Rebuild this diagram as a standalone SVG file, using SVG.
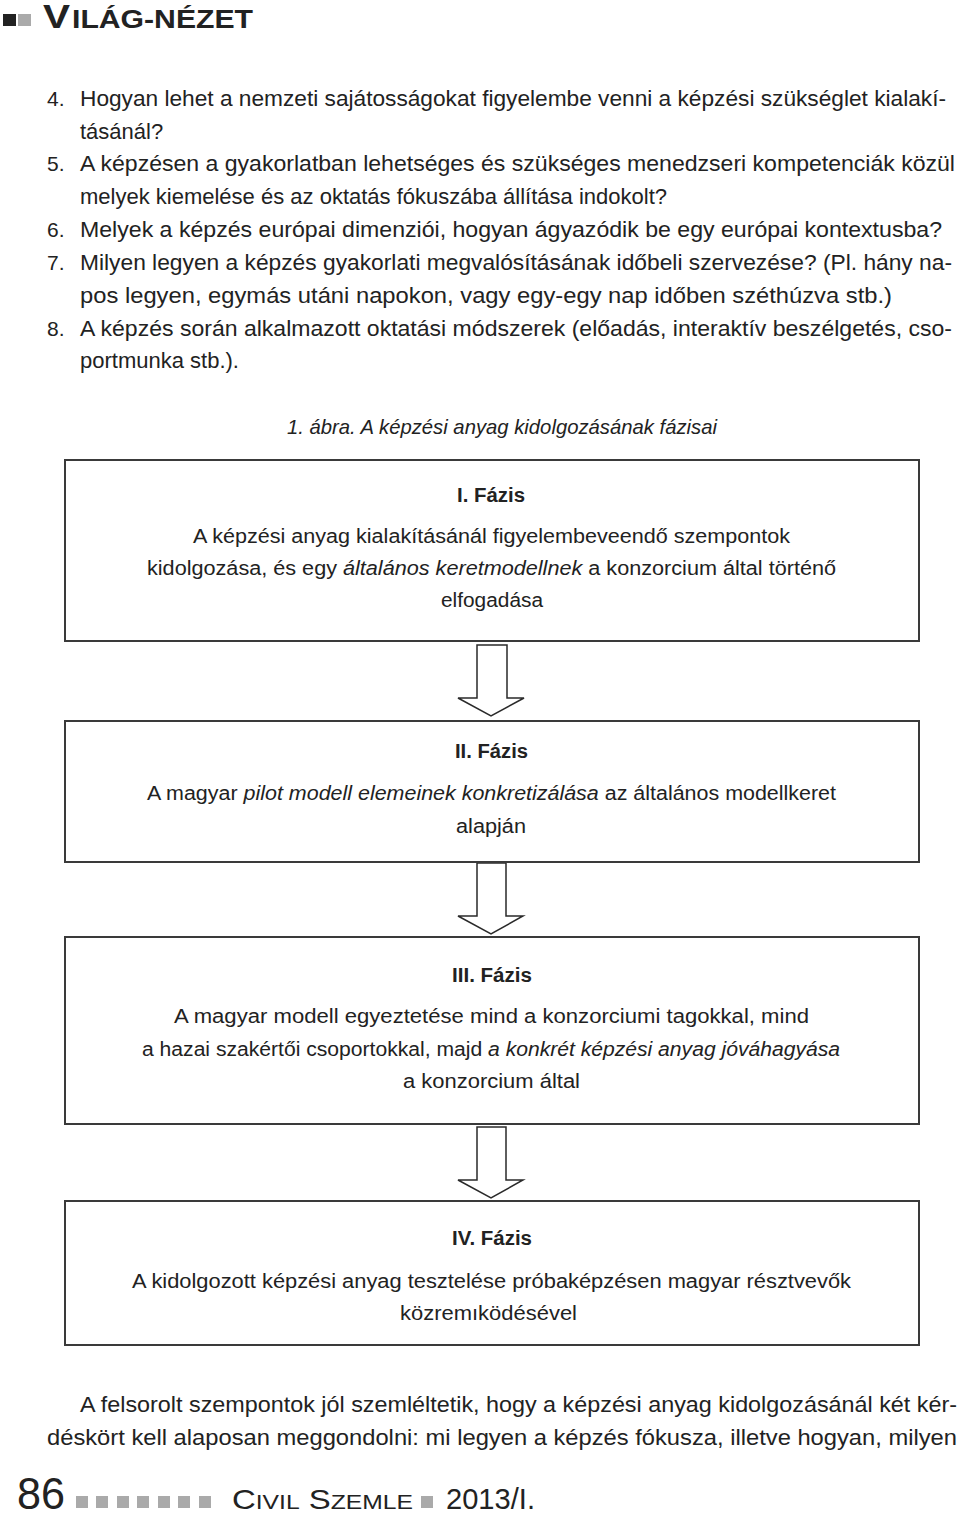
<svg xmlns="http://www.w3.org/2000/svg" width="960" height="1515" viewBox="0 0 960 1515">
<style>
.t{font-family:"Liberation Sans",Arial,sans-serif;fill:#222}
.q{font-size:22px}
.b{font-size:20px}
.bold{font-weight:bold}
.it{font-style:italic}
.box{fill:#fff;stroke:#3a3a3a;stroke-width:2}
.arr{fill:#fff;stroke:#2a2a2a;stroke-width:1.5;stroke-linejoin:miter}
.sq{fill:#aaa}
</style>
<rect width="960" height="1515" fill="#fff"/>
<g id="header">
<rect x="3" y="14" width="13" height="12" fill="#222"/>
<rect x="18" y="14" width="13" height="12" fill="#aaa"/>
<text class="t bold" x="43" y="28" font-size="34" textLength="27" lengthAdjust="spacingAndGlyphs">V</text>
<text class="t bold" x="72" y="28" font-size="25" textLength="181" lengthAdjust="spacingAndGlyphs">ILÁG-NÉZET</text>
</g>
<g id="questions" class="t q">
<text x="47" y="106" font-size="21">4.</text>
<text x="80" y="106" textLength="866" lengthAdjust="spacingAndGlyphs">Hogyan lehet a nemzeti sajátosságokat figyelembe venni a képzési szükséglet kialakí-</text>
<text x="80" y="139">tásánál?</text>
<text x="47" y="171" font-size="21">5.</text>
<text x="80" y="171" textLength="875" lengthAdjust="spacingAndGlyphs">A képzésen a gyakorlatban lehetséges és szükséges menedzseri kompetenciák közül</text>
<text x="80" y="204">melyek kiemelése és az oktatás fókuszába állítása indokolt?</text>
<text x="47" y="237" font-size="21">6.</text>
<text x="80" y="237" textLength="862" lengthAdjust="spacingAndGlyphs">Melyek a képzés európai dimenziói, hogyan ágyazódik be egy európai kontextusba?</text>
<text x="47" y="270" font-size="21">7.</text>
<text x="80" y="270" textLength="872" lengthAdjust="spacingAndGlyphs">Milyen legyen a képzés gyakorlati megvalósításának időbeli szervezése? (Pl. hány na-</text>
<text x="80" y="303" textLength="812" lengthAdjust="spacingAndGlyphs">pos legyen, egymás utáni napokon, vagy egy-egy nap időben széthúzva stb.)</text>
<text x="47" y="336" font-size="21">8.</text>
<text x="80" y="336" textLength="872" lengthAdjust="spacingAndGlyphs">A képzés során alkalmazott oktatási módszerek (előadás, interaktív beszélgetés, cso-</text>
<text x="80" y="368">portmunka stb.).</text>
</g>
<g id="caption">
<text class="t it" font-size="21" x="287" y="434" textLength="430" lengthAdjust="spacingAndGlyphs">1. ábra. A képzési anyag kidolgozásának fázisai</text>
</g>
<g id="connectors">
<polygon class="arr" points="477,645 507,645 507,698 524,698 491,716 458,698 477,698"/>
<polygon class="arr" points="477,863 506,863 506,916 523,916 491,934 458,916 477,916"/>
<polygon class="arr" points="477,1127 506,1127 506,1180 523,1180 491,1198 458,1180 477,1180"/>
</g>
<g id="phase1">
<rect class="box" x="65" y="460" width="854" height="181"/>
<text class="t b bold" x="457" y="502" textLength="68" lengthAdjust="spacingAndGlyphs">I. Fázis</text>
<text class="t b" x="193" y="543" textLength="597" lengthAdjust="spacingAndGlyphs">A képzési anyag kialakításánál figyelembeveendő szempontok</text>
<text class="t b" x="147" y="575" textLength="689" lengthAdjust="spacingAndGlyphs">kidolgozása, és egy <tspan class="it">általános keretmodellnek</tspan> a konzorcium által történő</text>
<text class="t b" x="441" y="607" textLength="102" lengthAdjust="spacingAndGlyphs">elfogadása</text>
</g>
<g id="phase2">
<rect class="box" x="65" y="721" width="854" height="141"/>
<text class="t b bold" x="455" y="758" textLength="73" lengthAdjust="spacingAndGlyphs">II. Fázis</text>
<text class="t b" x="147" y="800" textLength="689" lengthAdjust="spacingAndGlyphs">A magyar <tspan class="it">pilot modell elemeinek konkretizálása</tspan> az általános modellkeret</text>
<text class="t b" x="456" y="833" textLength="70" lengthAdjust="spacingAndGlyphs">alapján</text>
</g>
<g id="phase3">
<rect class="box" x="65" y="937" width="854" height="187"/>
<text class="t b bold" x="452" y="982" textLength="80" lengthAdjust="spacingAndGlyphs">III. Fázis</text>
<text class="t b" x="174" y="1023" textLength="635" lengthAdjust="spacingAndGlyphs">A magyar modell egyeztetése mind a konzorciumi tagokkal, mind</text>
<text class="t b" x="142" y="1056" textLength="698" lengthAdjust="spacingAndGlyphs">a hazai szakértői csoportokkal, majd <tspan class="it">a konkrét képzési anyag jóváhagyása</tspan></text>
<text class="t b" x="403" y="1088" textLength="177" lengthAdjust="spacingAndGlyphs">a konzorcium által</text>
</g>
<g id="phase4">
<rect class="box" x="65" y="1201" width="854" height="144"/>
<text class="t b bold" x="452" y="1245" textLength="80" lengthAdjust="spacingAndGlyphs">IV. Fázis</text>
<text class="t b" x="132" y="1288" textLength="719" lengthAdjust="spacingAndGlyphs">A kidolgozott képzési anyag tesztelése próbaképzésen magyar résztvevők</text>
<text class="t b" x="400" y="1320" textLength="177" lengthAdjust="spacingAndGlyphs">közremıködésével</text>
</g>
<g id="paragraph" class="t q">
<text x="80" y="1412" textLength="877" lengthAdjust="spacingAndGlyphs">A felsorolt szempontok jól szemléltetik, hogy a képzési anyag kidolgozásánál két kér-</text>
<text x="47" y="1445" textLength="910" lengthAdjust="spacingAndGlyphs">déskört kell alaposan meggondolni: mi legyen a képzés fókusza, illetve hogyan, milyen</text>
</g>
<g id="footer">
<text class="t" x="17" y="1509" font-size="44" textLength="48" lengthAdjust="spacingAndGlyphs">86</text>
<rect class="sq" x="76" y="1496" width="12" height="12"/>
<rect class="sq" x="96" y="1496" width="12" height="12"/>
<rect class="sq" x="117" y="1496" width="12" height="12"/>
<rect class="sq" x="137" y="1496" width="12" height="12"/>
<rect class="sq" x="158" y="1496" width="12" height="12"/>
<rect class="sq" x="178" y="1496" width="12" height="12"/>
<rect class="sq" x="199" y="1496" width="12" height="12"/>
<text class="t" x="232" y="1509" font-size="28" textLength="181" lengthAdjust="spacingAndGlyphs">C<tspan font-size="21">IVIL</tspan> S<tspan font-size="21">ZEMLE</tspan></text>
<rect class="sq" x="421" y="1496" width="12" height="12"/>
<text class="t" x="446" y="1509" font-size="30" textLength="89" lengthAdjust="spacingAndGlyphs">2013/I.</text>
</g>
</svg>
